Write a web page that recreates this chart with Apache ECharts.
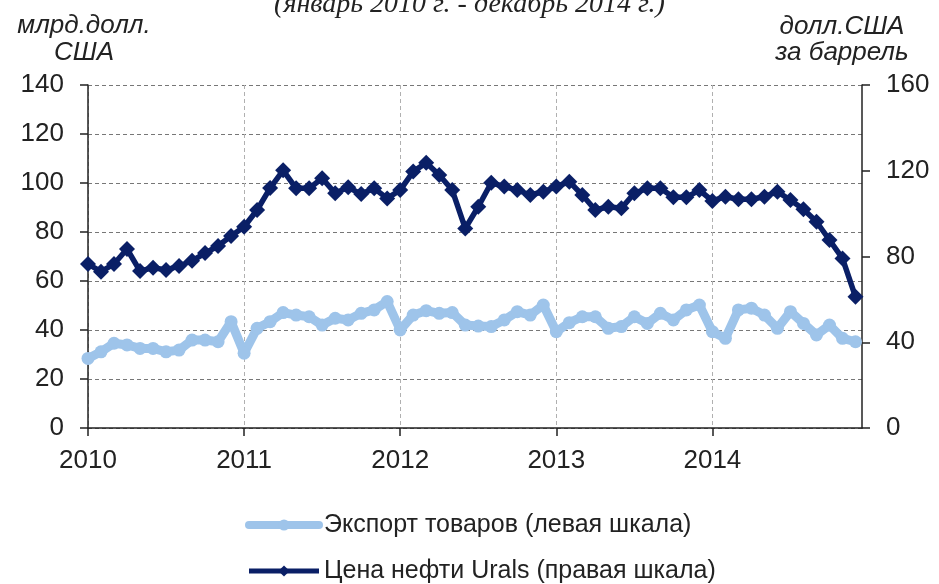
<!DOCTYPE html>
<html>
<head>
<meta charset="utf-8">
<script src="https://cdn.jsdelivr.net/npm/echarts@6/dist/echarts.min.js"></script>
<style>
  html, body { margin: 0; padding: 0; background: #fff; }
  #chart { width: 939px; height: 584px; }
</style>
</head>
<body>
<div id="chart"></div>
<script>
// Month index 0 = January 2010 ... 59 = December 2014
const yearLabels = ['2010', '2011', '2012', '2013', '2014'];
const yearTicks = [0, 12, 24, 36, 48];

// Exports of goods, bn USD (left scale)
const exportsBn = [
  28.4, 31.1, 34.6, 33.9, 32.5, 32.5, 31.1, 31.8, 35.9, 35.9, 35.2, 43.4,
  30.5, 40.7, 43.4, 47.1, 46.1, 45.4, 42.0, 44.8, 44.1, 46.8, 48.2, 51.6,
  40.0, 46.1, 47.9, 46.8, 47.1, 42.0, 41.6, 41.4, 44.1, 47.5, 46.1, 50.2,
  39.3, 43.0, 45.4, 45.4, 40.7, 41.4, 45.4, 42.7, 46.8, 44.1, 48.2, 50.2,
  39.3, 36.6, 48.2, 48.9, 46.1, 40.7, 47.5, 42.7, 38.0, 42.0, 36.6, 35.2
];

// Urals crude price, USD per barrel (right scale)
const uralsPrice = [
  76.5, 72.9, 76.5, 83.5, 73.2, 74.8, 73.7, 75.6, 78.0, 81.6, 84.9, 89.6,
  93.9, 101.7, 111.9, 120.2, 111.8, 111.8, 116.5, 109.5, 112.3, 109.1, 111.8, 107.1,
  111.0, 119.6, 123.7, 118.0, 111.0, 93.1, 103.2, 114.4, 112.6, 111.0, 108.7, 110.2,
  112.6, 114.9, 108.7, 101.7, 103.2, 102.5, 109.5, 111.8, 111.8, 107.6, 107.6, 111.0,
  105.9, 107.9, 106.7, 106.7, 107.9, 110.2, 106.3, 102.0, 96.2, 87.7, 79.1, 61.2
];

const exportName = 'Экспорт товаров (левая шкала)';
const uralsName = 'Цена нефти Urals (правая шкала)';

const exportColor = '#9ec4ea';
const uralsColor = '#0a1f66';

const pairs = arr => arr.map((v, i) => [i, v]);

const sansFont = '"Liberation Sans", Arial, sans-serif';
const axisColor = '#222';
const titleFont = 'italic 26px ' + sansFont;

const chart = echarts.init(document.getElementById('chart'), null, { renderer: 'canvas' });

chart.setOption({
  backgroundColor: '#ffffff',
  animation: false,
  grid: { left: 88, right: 77, top: 85, bottom: 156, containLabel: false },
  graphic: [
    {
      type: 'text', left: 'center', top: -9,
      style: {
        text: '(январь 2010 г. - декабрь 2014 г.)',
        font: 'italic 28px "Liberation Serif", "Times New Roman", serif',
        fill: '#222'
      }
    },
    {
      type: 'text', x: 84, y: 26,
      style: { text: 'млрд.долл.', textAlign: 'center', textVerticalAlign: 'middle', font: titleFont, fill: '#222' }
    },
    {
      type: 'text', x: 84, y: 53,
      style: { text: 'США', textAlign: 'center', textVerticalAlign: 'middle', font: titleFont, fill: '#222' }
    },
    {
      type: 'text', x: 842, y: 27,
      style: { text: 'долл.США', textAlign: 'center', textVerticalAlign: 'middle', font: titleFont, fill: '#222' }
    },
    {
      type: 'text', x: 842, y: 53,
      style: { text: 'за баррель', textAlign: 'center', textVerticalAlign: 'middle', font: titleFont, fill: '#222' }
    }
  ],
  legend: {
    orient: 'vertical',
    left: 245,
    top: 510,
    height: 90,
    padding: 0,
    itemWidth: 70,
    itemHeight: 14,
    itemGap: 16,
    textStyle: { fontFamily: sansFont, fontSize: 25, color: '#222', lineHeight: 30 },
    data: [
      { name: exportName, lineStyle: { width: 8, color: exportColor }, itemStyle: { color: exportColor } },
      { name: uralsName, lineStyle: { width: 5, color: uralsColor }, itemStyle: { color: uralsColor } }
    ]
  },
  xAxis: {
    type: 'value',
    min: 0,
    max: 59.5,
    interval: 12,
    axisLine: { show: true, onZero: false, lineStyle: { color: axisColor, width: 1.5 } },
    axisTick: { show: true, length: 8, inside: false, customValues: yearTicks, lineStyle: { color: axisColor, width: 1.5 } },
    axisLabel: {
      customValues: yearTicks,
      margin: 20,
      fontFamily: sansFont, fontSize: 26, color: '#222',
      formatter: v => {
        const i = yearTicks.indexOf(Math.round(v));
        return i >= 0 ? yearLabels[i] : '';
      }
    },
    splitLine: { show: true, lineStyle: { color: '#b0b0b0', type: [4, 3], width: 1 } }
  },
  yAxis: [
    {
      type: 'value', min: 0, max: 140, interval: 20, position: 'left',
      axisLine: { show: true, lineStyle: { color: axisColor, width: 1.5 } },
      axisTick: { show: true, length: 8, lineStyle: { color: axisColor, width: 1.5 } },
      axisLabel: { margin: 24, fontFamily: sansFont, fontSize: 26, color: '#222' },
      splitLine: { show: true, lineStyle: { color: '#777', type: [4, 3], width: 1 } }
    },
    {
      type: 'value', min: 0, max: 160, interval: 40, position: 'right',
      axisLine: { show: true, lineStyle: { color: axisColor, width: 1.5 } },
      axisTick: { show: true, length: 8, lineStyle: { color: axisColor, width: 1.5 } },
      axisLabel: { margin: 24, fontFamily: sansFont, fontSize: 26, color: '#222' },
      splitLine: { show: false }
    }
  ],
  series: [
    {
      name: exportName,
      type: 'line',
      yAxisIndex: 0,
      data: pairs(exportsBn),
      symbol: 'circle',
      symbolSize: 13,
      color: exportColor,
      lineStyle: { width: 9, color: exportColor, cap: 'round', join: 'round' },
      itemStyle: { color: exportColor },
      z: 2
    },
    {
      name: uralsName,
      type: 'line',
      yAxisIndex: 1,
      data: pairs(uralsPrice),
      symbol: 'diamond',
      symbolSize: 16,
      color: uralsColor,
      lineStyle: { width: 5.5, color: uralsColor, join: 'round' },
      itemStyle: { color: uralsColor },
      z: 3
    }
  ]
});
</script>
</body>
</html>
